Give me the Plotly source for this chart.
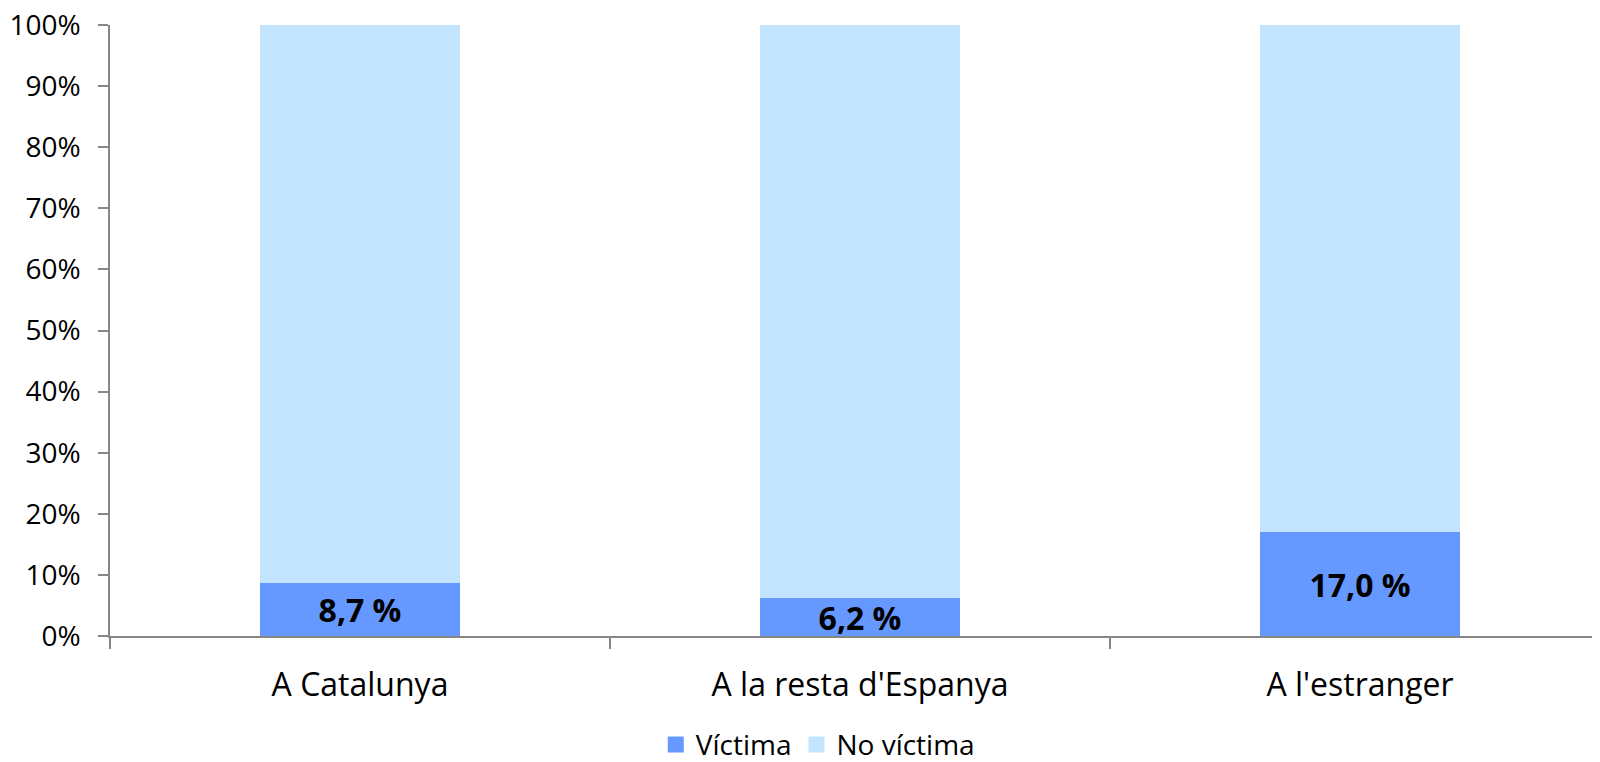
import plotly.graph_objects as go

categories = ["A Catalunya", "A la resta d'Espanya", "A l'estranger"]
victima = [8.7, 6.2, 17.0]
no_victima = [91.3, 93.8, 83.0]
y_ticks = [0, 10, 20, 30, 40, 50, 60, 70, 80, 90, 100]
y_tick_labels = [f"{v}%" for v in y_ticks]

FONT = "Open Sans"
AXIS_GREY = "#868686"
C_VICT = "#6699FF"
C_NOVICT = "#C2E4FF"

fig = go.Figure()
fig.add_trace(go.Bar(
    name="Víctima", x=categories, y=victima,
    marker=dict(color=C_VICT, line=dict(width=0)),
    texttemplate="%{y:.1f} %", textposition="inside",
    insidetextanchor="middle", constraintext="none", textangle=0,
    textfont=dict(family=FONT, size=32, color="black", weight="bold"),
    hoverinfo="skip", showlegend=False,
))
fig.add_trace(go.Bar(
    name="No víctima", x=categories, y=no_victima,
    marker=dict(color=C_NOVICT, line=dict(width=0)),
    hoverinfo="skip", showlegend=False,
))
# legend entries with larger square swatches
for nm, col in [("Víctima", C_VICT), ("No víctima", C_NOVICT)]:
    fig.add_trace(go.Scatter(
        name=nm, x=[None], y=[None], mode="markers",
        marker=dict(symbol="square", size=18, color=col),
        showlegend=True, hoverinfo="skip",
    ))

# page body has an 8px default margin, so the figure is sized to fit the window
fig.update_layout(
    width=1592, height=754,
    barmode="stack", bargap=0.6,
    separators=", ",
    paper_bgcolor="white", plot_bgcolor="white",
    margin=dict(l=102, r=0, t=17, b=126, autoexpand=False),
    font=dict(family=FONT, color="black"),
    showlegend=True,
    legend=dict(
        orientation="h", x=0.475, xanchor="center", y=-0.178, yanchor="middle",
        font=dict(family=FONT, size=28, color="black"),
        itemwidth=30, traceorder="normal", itemsizing="trace",
    ),
    xaxis=dict(
        range=[-0.5, 2.48], showgrid=False, zeroline=False, automargin=False,
        showline=True, linecolor=AXIS_GREY, linewidth=1.5,
        ticks="outside", tickson="boundaries", ticklen=11, tickcolor=AXIS_GREY,
        tickwidth=1.5, tickfont=dict(family=FONT, size=32, color="black"),
        ticklabelstandoff=20,
    ),
    yaxis=dict(
        range=[0, 100], tickvals=y_ticks, ticktext=y_tick_labels,
        showgrid=False, zeroline=False, automargin=False,
        ticklabeloverflow="allow",
        showline=True, linecolor=AXIS_GREY, linewidth=1.5,
        ticks="outside", ticklen=10, tickcolor=AXIS_GREY, tickwidth=1.5,
        tickfont=dict(family=FONT, size=28, color="black"),
        ticklabelstandoff=12,
    ),
)

fig.write_html("out.html")
